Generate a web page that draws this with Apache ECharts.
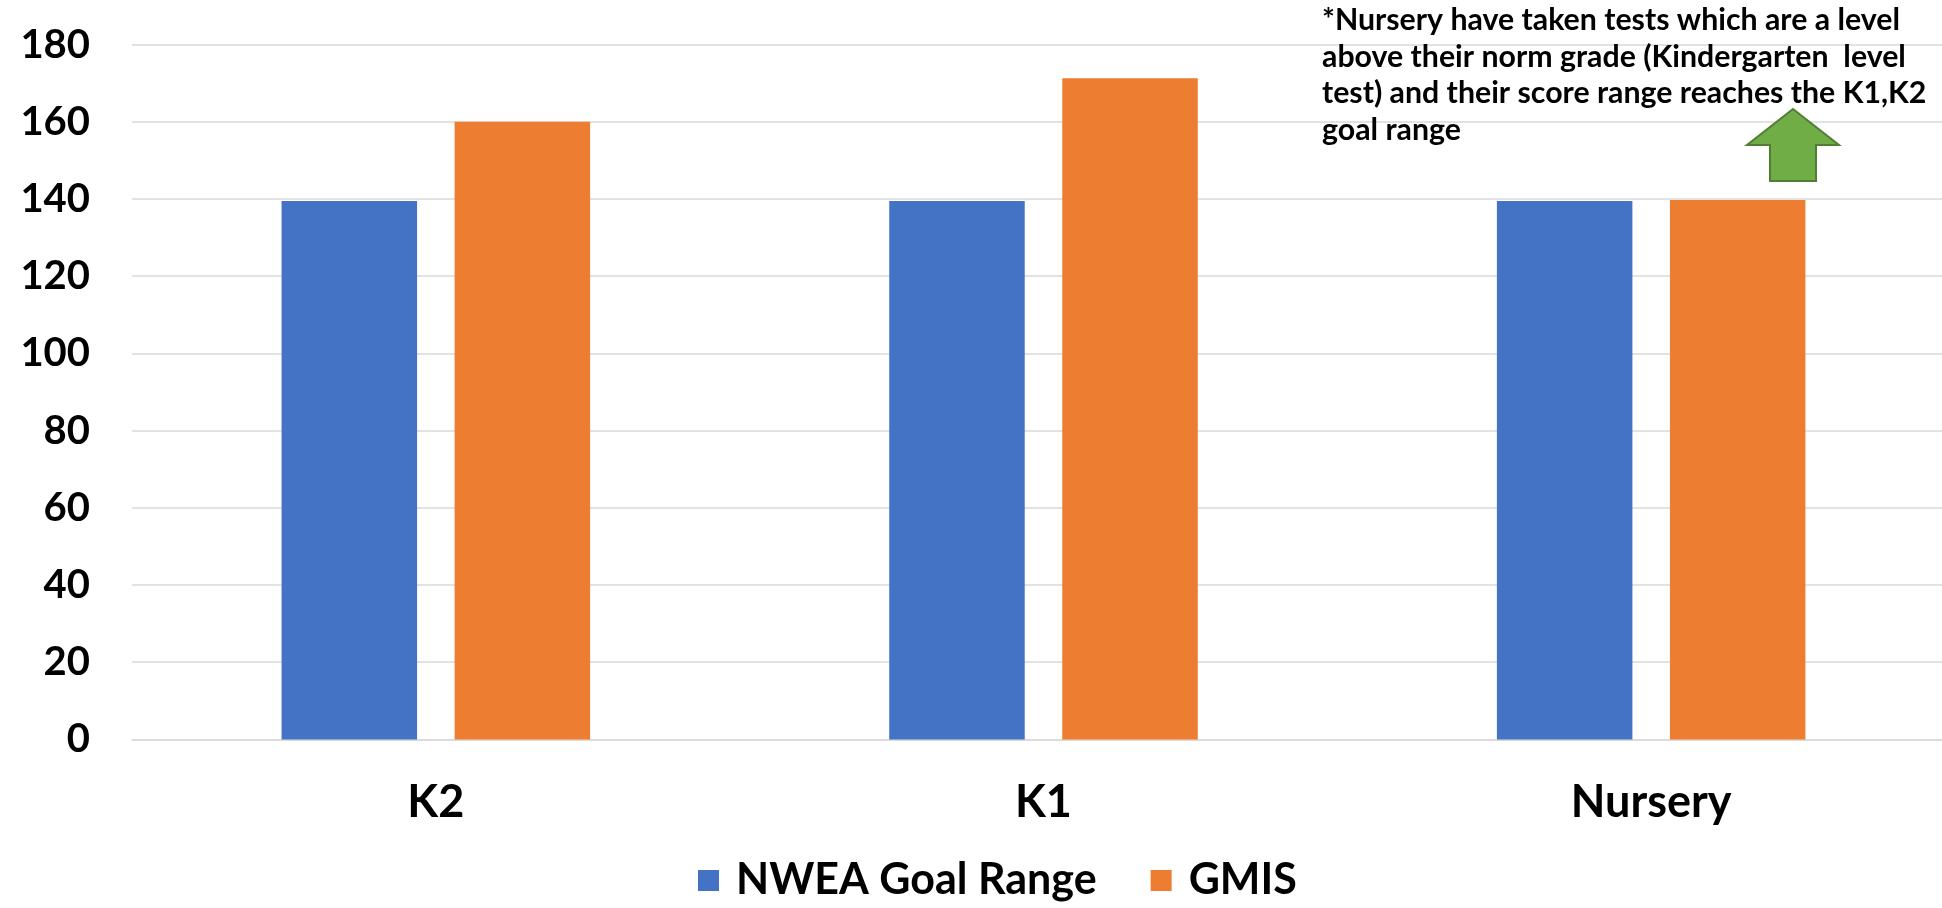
<!DOCTYPE html>
<html>
<head>
<meta charset="utf-8">
<script src="https://cdn.jsdelivr.net/npm/echarts@6/dist/echarts.min.js"></script>
<style>
html,body{margin:0;padding:0;background:#fff;}
#chart{width:1942px;height:908px;}
</style>
</head>
<body>
<div id="chart"></div>
<script>
const categories = ['K2', 'K1', 'Nursery'];
const nweaGoalRange = [139.5, 139.5, 139.5];
const gmis = [160, 171.3, 139.75];
const seriesNames = ['NWEA Goal Range', 'GMIS'];
const yTicks = { min: 0, max: 180, interval: 20 };
const noteLines = [
  '*Nursery have taken tests which are a level',
  'above their norm grade (Kindergarten  level',
  'test) and their score range reaches the K1,K2',
  'goal range'
];

const FONT = 'Lato, "Open Sans", sans-serif';
const chart = echarts.init(document.getElementById('chart'), null, { renderer: 'canvas' });

const option = {
  backgroundColor: '#ffffff',
  animation: false,
  grid: { left: 132, width: 1823, top: 44.6, bottom: 168.6, containLabel: false, outerBoundsMode: 'none' },
  legend: {
    data: seriesNames,
    bottom: 1,
    left: 693,
    itemWidth: 21,
    itemHeight: 21,
    itemGap: 54,
    icon: 'rect',
    textStyle: { fontFamily: FONT, fontWeight: 'bold', fontSize: 43, color: '#000', padding: [0, 0, 0, 12] }
  },
  xAxis: {
    type: 'category',
    data: categories,
    axisLine: { show: true, lineStyle: { color: '#d9d9d9', width: 1.5 } },
    axisTick: { show: false },
    axisLabel: { fontFamily: FONT, fontWeight: 'bold', fontSize: 45, color: '#000', margin: 41 }
  },
  yAxis: {
    type: 'value',
    min: yTicks.min,
    max: yTicks.max,
    interval: yTicks.interval,
    axisLine: { show: false },
    axisTick: { show: false },
    splitLine: { lineStyle: { color: '#d9d9d9', width: 1.5 } },
    axisLabel: { fontFamily: FONT, fontWeight: 'bold', fontSize: 40, color: '#000', margin: 42 }
  },
  series: [
    {
      name: seriesNames[0],
      type: 'bar',
      data: nweaGoalRange,
      barWidth: 135.5,
      barGap: '27.7%',
      itemStyle: { color: '#4472C4' }
    },
    {
      name: seriesNames[1],
      type: 'bar',
      data: gmis,
      barWidth: 135.5,
      barGap: '27.7%',
      itemStyle: { color: '#ED7D31' }
    }
  ],
  graphic: [
    {
      type: 'text',
      left: 1322,
      top: 2,
      z: 100,
      style: {
        text: noteLines.join('\n'),
        fontFamily: FONT,
        fontWeight: 'bold',
        fontSize: 30.3,
        lineHeight: 36.5,
        fill: '#000'
      }
    },
    {
      type: 'polygon',
      z: 100,
      shape: {
        points: [[1793, 109], [1839, 145], [1816, 145], [1816, 181], [1770, 181], [1770, 145], [1747, 145]]
      },
      style: { fill: '#70AD47', stroke: '#507E32', lineWidth: 2 }
    }
  ]
};
chart.setOption(option);
</script>
</body>
</html>
